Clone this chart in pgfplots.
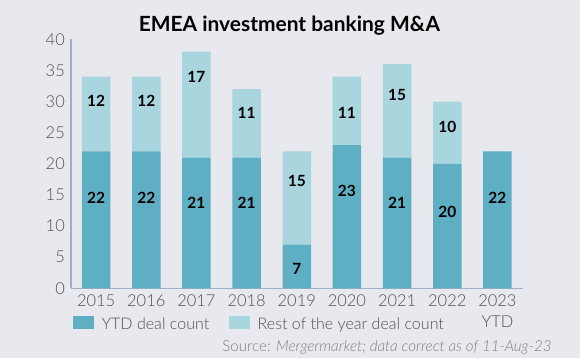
\documentclass[border=0pt]{standalone}
\usepackage{fontspec}
\setmainfont{Lato}
\newfontfamily\latolight{Lato Light}[ItalicFont={Lato Light Italic}]
\usepackage{pgfplots}
\pgfplotsset{compat=1.18}
\definecolor{bgc}{HTML}{E8E9EE}
\definecolor{darkbar}{HTML}{5EAFC3}
\definecolor{lightbar}{HTML}{A9D5DF}
\definecolor{axcol}{HTML}{A0AFC3}
\definecolor{tickcol}{HTML}{505050}
\definecolor{srccol}{HTML}{808080}
\begin{document}
\begin{tikzpicture}[x=1bp,y=1bp]
\fill[bgc] (0,0) rectangle (580,358);
\node[anchor=base, font={\fontsize{21}{25}\selectfont\bfseries}, text=black] at (289.5,326.3) {EMEA investment banking M\&A};
\begin{axis}[
  at={(71bp,69.7bp)}, anchor=south west,
  scale only axis, width=451.5bp, height=249bp,
  xmin=-0.5, xmax=8.5, ymin=0, ymax=40, enlargelimits=false,
  ybar stacked, bar width=28.5bp,
  axis x line=bottom, axis y line=left,
  axis line style={draw=axcol, line width=1.5bp, -},
  major tick length=0pt,
  /pgf/number format/assume math mode=true,
  ytick={0,5,...,40},
  yticklabel style={font={\latolight\fontsize{16.5}{20}\selectfont}, text=tickcol, anchor=east, inner sep=0pt, xshift=-6bp},
  xtick={0,...,8},
  xticklabels={2015,2016,2017,2018,2019,2020,2021,2022,{2023\\YTD}},
  xticklabel style={align=center, font={\latolight\fontsize{16.5}{20.6}\selectfont}, text=tickcol, anchor=north, inner sep=0pt, yshift=-6.5bp},
  legend style={draw=none, fill=none, inner sep=0pt, outer sep=0pt,
    at={(0.005,-0.110)}, anchor=north west,
    font={\latolight\fontsize{16.1}{20}\selectfont}, text=tickcol,
    nodes={inner sep=0pt, anchor=base west},
    column sep=7.4bp,
    /tikz/every even column/.append style={column sep=20bp}},
  legend columns=-1,
]
\addplot[fill=darkbar, draw=none, legend image code/.code={\fill[darkbar] (0bp,0bp) rectangle (21bp,13.6bp);}]
  coordinates {(0,22) (1,22) (2,21) (3,21) (4,7) (5,23) (6,21) (7,20) (8,22)};
\addplot[fill=lightbar, draw=none, legend image code/.code={\fill[lightbar] (0bp,0bp) rectangle (21bp,13.6bp);}]
  coordinates {(0,12) (1,12) (2,17) (3,11) (4,15) (5,11) (6,15) (7,10) (8,0)};
\legend{YTD deal count, Rest of the year deal count}
\end{axis}
\begin{axis}[
  at={(71bp,69.7bp)}, anchor=south west,
  scale only axis, width=451.5bp, height=249bp,
  xmin=-0.5, xmax=8.5, ymin=0, ymax=40, enlargelimits=false,
  hide axis, clip=false,
]
\addplot[draw=none, mark=none, nodes near coords, point meta=explicit symbolic,
  nodes near coords style={anchor=center, inner sep=0pt, font={\fontsize{15.5}{18}\selectfont\bfseries}, text=black}]
  coordinates {(0,14.6)[22] (1,14.6)[22] (2,13.7)[21] (3,13.7)[21] (4,3.1)[7] (5,15.6)[23] (6,13.7)[21] (7,12.3)[20] (8,14.6)[22]
               (0,30.1)[12] (1,30.1)[12] (2,34.0)[17] (3,28.2)[11] (4,17.2)[15] (5,28.1)[11] (6,31.1)[15] (7,26.0)[10]};
\end{axis}
\node[anchor=base east, font={\latolight\fontsize{15.2}{17}\selectfont}, text=srccol] at (555,7) {Source: \textit{Mergermarket; data correct as of 11-Aug-23}};
\pgfresetboundingbox
\path (0,0) rectangle (580,358);
\end{tikzpicture}
\end{document}
